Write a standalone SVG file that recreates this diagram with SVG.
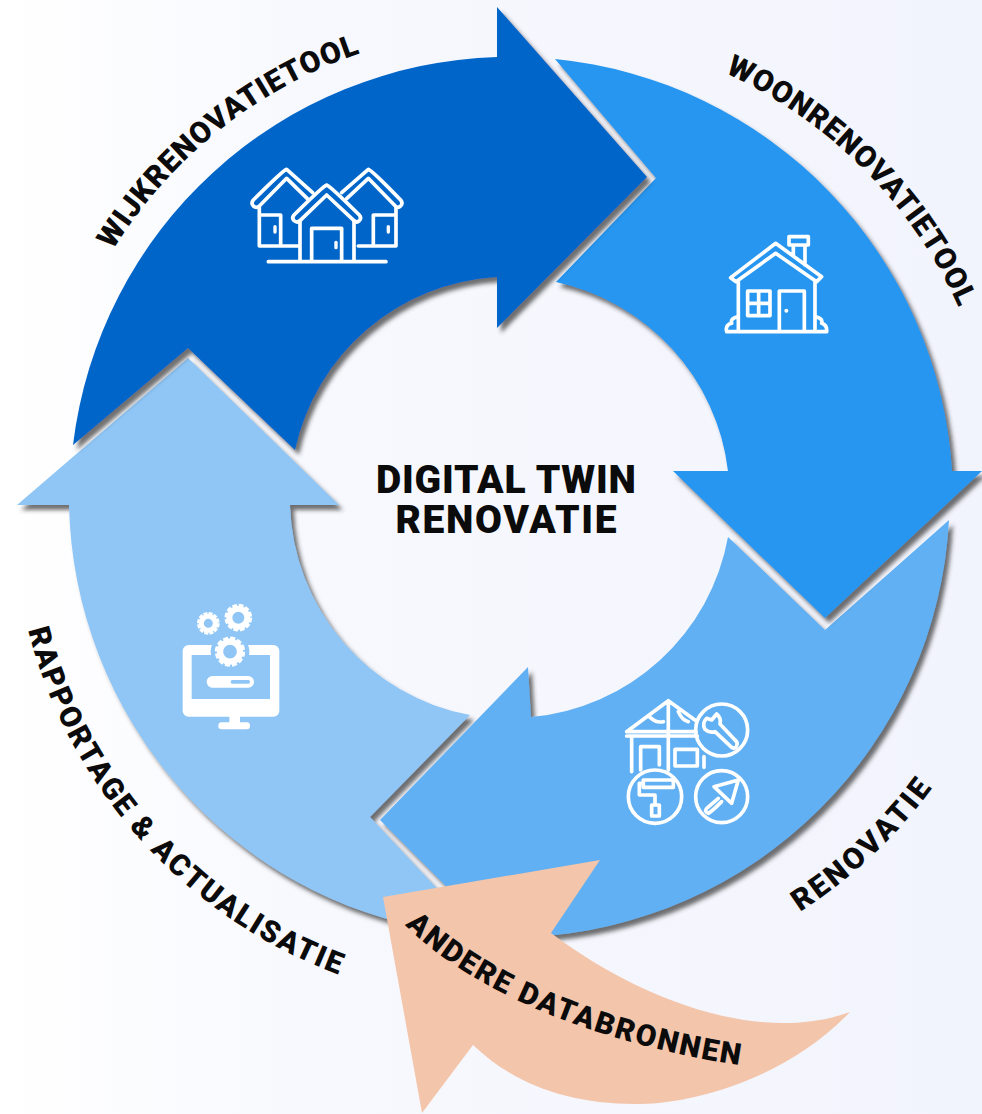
<svg xmlns="http://www.w3.org/2000/svg" width="982" height="1114" viewBox="0 0 982 1114">
<defs>
<linearGradient id="bg" x1="0" y1="0" x2="1" y2="0"><stop offset="0" stop-color="#ffffff"/><stop offset=".3" stop-color="#f8f9fe"/><stop offset="1" stop-color="#f2f4fd"/></linearGradient>
<filter id="sh" x="-10%" y="-10%" width="125%" height="125%"><feDropShadow dx="4" dy="5" stdDeviation="2.2" flood-color="#333" flood-opacity=".7"/></filter>
<path id="p1" d="M113 250A468 468 0 0 1 370 50"/>
<path id="p2" d="M725 73A469 469 0 0 1 970 335"/>
<path id="p3" d="M800 912A506 506 0 0 0 945 770"/>
<path id="p4" d="M28 630A500 500 0 0 0 370 985"/>
<path id="p5" d="M405 925C480 1000 620 1050 760 1068"/>
</defs>
<style>
.lbl{font-family:"Roboto","Liberation Sans",sans-serif;font-weight:900;fill:#0b0b0b;font-size:30px}
.ttl{font-family:"Roboto","Liberation Sans",sans-serif;font-weight:900;fill:#0b0b0b;font-size:39px;text-anchor:middle}
.ln{fill:none;stroke:#fff;stroke-width:11;stroke-linecap:round;stroke-linejoin:round}
.wf{fill:#fff;stroke:none}
</style>
<rect width="982" height="1114" fill="url(#bg)"/>
<g id="connectors"></g>
<g id="node-rapportage">
<path filter="url(#sh)" fill="#8fc6f6" d="M440 931A441 441 0 0 1 69 505L17 505L188 358L339 505L290 505A220 220 0 0 0 470 715L370 817L445 897Z"/>
<g transform="translate(170,595) scale(.3333)">
<rect x="38" y="150" width="290" height="215" rx="18" class="wf"/>
<rect x="65" y="180" width="235" height="132" fill="#8fc6f6"/>
<circle cx="180" cy="170" r="58" fill="#8fc6f6"/>
<rect x="178" y="360" width="32" height="28" class="wf"/>
<rect x="145" y="382" width="95" height="21" rx="10" class="wf"/>
<rect x="110" y="243" width="142" height="35" rx="17" class="wf"/>
<rect x="182" y="255" width="58" height="11" rx="5" fill="#8fc6f6"/>
<circle cx="115" cy="85" r="21" fill="none" stroke="#fff" stroke-width="15"/>
<circle cx="115" cy="85" r="30" fill="none" stroke="#fff" stroke-width="8" stroke-dasharray="12 3.7"/>
<circle cx="205" cy="68" r="27" fill="none" stroke="#fff" stroke-width="18"/>
<circle cx="205" cy="68" r="37" fill="none" stroke="#fff" stroke-width="9" stroke-dasharray="14 5.4"/>
<circle cx="180" cy="170" r="30" fill="none" stroke="#fff" stroke-width="19"/>
<circle cx="180" cy="170" r="41" fill="none" stroke="#fff" stroke-width="9" stroke-dasharray="15 6.4"/>
</g>
<text class="lbl"><textPath href="#p4" textLength="482">RAPPORTAGE &amp; ACTUALISATIE</textPath></text>
</g>
<g id="node-renovatie">
<path filter="url(#sh)" fill="#61b0f3" d="M949 520A441 441 0 0 1 530 937L530 970L380 820L528 667L531 717A220 220 0 0 0 728 537L825 630Z"/>
<g transform="translate(610,690) scale(.3333)">
<circle cx="335" cy="120" r="78" class="ln"/>
<circle cx="135" cy="320" r="80" class="ln"/>
<circle cx="335" cy="320" r="78" class="ln"/>
<path class="ln" d="M50 125L175 32L258 92M50 125H258M50 138H262M175 32V240M65 138V245M282 200V232M92 240V170H148V225M195 178H262V228H195ZM120 82Q140 100 160 95M205 65Q215 90 235 95"/>
<path class="ln" d="M290 85Q275 100 285 118Q298 130 315 125L365 172Q375 178 380 168Q385 158 375 150L330 102Q335 85 320 72L305 90Z"/>
<path class="ln" d="M100 270H190V292H100ZM100 280H88V315H135V345M125 345H148V378H125Z"/>
<path class="ln" d="M312 290L385 270L365 340ZM325 325L290 355Q282 365 295 370Q305 365 335 335"/>
</g>
<text class="lbl"><textPath href="#p3" textLength="182">RENOVATIE</textPath></text>
</g>
<g id="node-woonrenovatietool">
<path filter="url(#sh)" fill="#2696f0" d="M555 59A441 441 0 0 1 952 471L982 471L825 618L673 471L728 471A220 220 0 0 0 556 282L656 178Z"/>
<g transform="translate(710,225) scale(.3333)">
<path class="ln" d="M62 158L197 55L335 155L320 170L197 85L78 170ZM250 92V60H285V120M237 35H295V60H237ZM85 170V320M315 170V320M50 320H350M85 275Q60 280 65 295Q45 300 50 320M315 275Q340 280 335 295Q352 300 350 320M113 198H180V272H113ZM146 198V272M113 235H180M208 320V198H283V320"/>
<circle cx="229" cy="257" r="6" class="wf"/>
</g>
<text class="lbl"><textPath href="#p2" textLength="338">WOONRENOVATIETOOL</textPath></text>
</g>
<g id="node-wijkrenovatietool">
<path filter="url(#sh)" fill="#0565c9" d="M73 445A441 441 0 0 1 497 57L497 7L647 177L497 328L497 277A220 220 0 0 0 295 450L188 348Z"/>
<g transform="translate(230,150) scale(.3333)">
<path class="ln" d="M248 128L170 58Q160 60 70 150Q62 160 70 168Q80 176 88 168L170 85L232 146M335 128L415 58Q425 60 512 150Q520 160 512 168Q504 176 496 168L415 85L350 146"/>
<path class="ln" d="M290 105Q280 108 192 195Q184 205 192 212Q202 220 210 212L290 135L372 212Q380 220 388 212Q396 205 388 195Q300 108 290 105Z"/>
<path class="ln" d="M88 172V288H205M88 195H152V288M498 172V288H385M430 288V195H495M210 212V332M372 212V332M245 332V235H335V332M115 335H468"/>
<rect x="130" y="225" width="10" height="26" rx="5" class="wf"/><rect x="470" y="225" width="10" height="26" rx="5" class="wf"/><rect x="313" y="272" width="10" height="26" rx="5" class="wf"/>
</g>
<text class="lbl"><textPath href="#p1" textLength="322">WIJKRENOVATIETOOL</textPath></text>
</g>
<g id="node-databronnen">
<path fill="#f3c5ab" d="M383 897L600 860L551 933C640 1000 760 1045 850 1012C790 1075 700 1103 640 1104C570 1105 515 1085 473 1045L422 1113Z"/>
<text class="lbl"><textPath href="#p5" textLength="368">ANDERE DATABRONNEN</textPath></text>
</g>
<g id="node-center">
<text class="ttl" x="506" y="493" textLength="260">DIGITAL TWIN</text>
<text class="ttl" x="506" y="533" textLength="221">RENOVATIE</text>
</g>
</svg>
